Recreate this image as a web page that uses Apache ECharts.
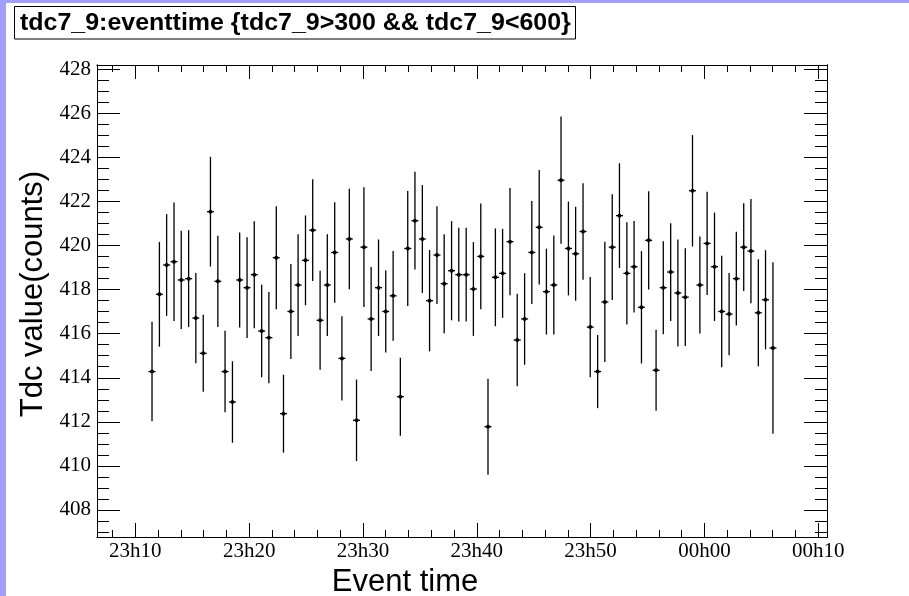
<!DOCTYPE html>
<html>
<head>
<meta charset="utf-8">
<script src="https://cdn.jsdelivr.net/npm/echarts@6/dist/echarts.min.js"></script>
<style>html,body{margin:0;padding:0;background:#fff;}#c{width:909px;height:596px;}</style>
</head>
<body>
<div id="c"></div>
<script>
// Bin centres: seconds after 23:00:00
var binTimes = [688,727,765,804,842,881,919,958,996,1035,1073,1112,1150,1189,1227,1266,1304,1343,1381,1420,
1458,1497,1535,1574,1612,1651,1689,1728,1766,1805,1843,1882,1920,1959,1997,2036,2074,2113,2151,2190,
2228,2267,2305,2344,2382,2421,2459,2498,2536,2575,2613,2652,2690,2729,2767,2806,2844,2883,2921,2960,
2998,3037,3075,3114,3152,3191,3229,3268,3306,3345,3383,3422,3460,3499,3537,3576,3614,3653,3691,3730,
3768,3807,3845,3884,3922,3961];
var tdcMean = [414.28,417.79,419.12,419.27,418.44,418.50,416.71,415.11,421.54,418.38,
414.28,412.90,418.44,418.09,418.68,416.12,415.82,419.45,412.37,417.01,
418.21,419.33,420.70,416.61,418.21,419.69,414.88,420.30,412.07,419.93,
416.67,418.09,417.01,417.72,413.14,419.87,421.13,420.30,417.50,419.57,
418.27,418.86,418.68,418.68,418.03,419.51,411.78,418.56,418.74,420.18,
415.71,416.67,419.69,420.83,417.91,418.21,422.97,419.87,419.63,420.64,
416.30,414.28,417.44,419.93,421.36,418.74,419.04,417.20,420.24,414.34,
418.09,418.80,417.85,417.66,422.49,418.21,420.10,419.04,417.01,416.89,
418.50,419.93,419.75,416.95,417.54,415.35];
var tdcErr = [2.26,2.38,2.31,2.69,2.23,2.20,2.05,1.75,2.49,2.07,
1.85,1.85,2.16,2.29,2.43,2.10,2.07,2.34,1.77,2.16,
2.31,2.04,2.31,2.25,2.31,2.28,1.91,2.28,1.85,2.72,
2.36,2.19,1.86,2.04,1.77,2.61,2.22,2.45,2.30,2.22,
2.25,2.25,2.13,2.13,2.13,2.40,2.18,2.22,2.02,2.43,
2.10,2.08,2.34,2.60,1.95,2.25,2.89,2.13,2.13,2.19,
2.28,1.66,2.73,2.40,2.38,2.32,2.08,2.55,2.23,1.84,
2.11,2.22,2.43,2.22,2.53,2.20,2.34,2.46,2.53,1.87,
2.13,1.99,2.37,2.43,2.25,3.89];
var xMajorTicks = [600,1200,1800,2400,3000,3600,4200];
var xMinorTicks = [480,720,840,960,1080,1320,1440,1560,1680,1920,2040,2160,2280,2520,2640,2760,2880,3120,3240,3360,3480,3720,3840,3960,4080];
var yMajorTicks = [408,410,412,414,416,418,420,422,424,426,428];
var yMinorTicks = [407,407.5,408.5,409,409.5,410.5,411,411.5,412.5,413,413.5,414.5,415,415.5,416.5,417,417.5,418.5,419,419.5,420.5,421,421.5,422.5,423,423.5,424.5,425,425.5,426.5,427,427.5];
var titleText = 'tdc7_9:eventtime {tdc7_9>300 && tdc7_9<600}';
var xTitle = 'Event time';
var yTitle = 'Tdc value(counts)';

var X_MIN = 398, X_MAX = 4246, Y_MIN = 406.77, Y_MAX = 428.2;
function fmtTime(v){
  var tot = 23*60 + Math.round(v/60);
  var h = Math.floor(tot/60)%24, m = tot%60;
  return (h<10?'0':'')+h+'h'+(m<10?'0':'')+m;
}
var data = binTimes.map(function(t,i){return [t, tdcMean[i], tdcErr[i]];});
var lineC = '#000';
function xAx(pos, ticks, len, showLabel){
  return {type:'value', position:pos, min:X_MIN, max:X_MAX, gridIndex:0,
    axisLine:{show:true, onZero:false, lineStyle:{color:lineC, width:1}},
    axisTick:{show:true, inside:true, length:len, customValues:ticks, lineStyle:{color:lineC, width:1}},
    axisLabel:{show:showLabel, customValues:ticks, formatter:fmtTime, margin:4,
      fontFamily:'Liberation Serif', fontSize:21, color:'#000'},
    splitLine:{show:false}};
}
function yAx(pos, ticks, len, showLabel){
  return {type:'value', position:pos, min:Y_MIN, max:Y_MAX, gridIndex:0,
    axisLine:{show:true, onZero:false, lineStyle:{color:lineC, width:1}},
    axisTick:{show:true, inside:true, length:len, customValues:ticks, lineStyle:{color:lineC, width:1}},
    axisLabel:{show:showLabel, customValues:ticks, margin:6,
      fontFamily:'Liberation Serif', fontSize:21, color:'#000'},
    splitLine:{show:false}};
}
var chart = echarts.init(document.getElementById('c'), null, {renderer:'canvas'});
chart.setOption({
  animation:false,
  backgroundColor:'#fff',
  grid:{left:97, right:82, top:65, bottom:59, containLabel:false},
  xAxis:[xAx('bottom', xMajorTicks, 14, true), xAx('bottom', xMinorTicks, 7, false),
         xAx('top', xMajorTicks, 14, false), xAx('top', xMinorTicks, 7, false)],
  yAxis:[yAx('left', yMajorTicks, 23, true), yAx('left', yMinorTicks, 12, false),
         yAx('right', yMajorTicks, 23, false), yAx('right', yMinorTicks, 12, false)],
  graphic:[
    {type:'rect', shape:{x:0,y:0,width:6,height:596}, style:{fill:'#a0a0fc'}, silent:true},
    {type:'rect', shape:{x:0,y:0,width:909,height:3}, style:{fill:'#a0a0fc'}, silent:true},
    {type:'rect', shape:{x:14.5,y:6.5,width:561,height:32.5}, style:{fill:'#fff', stroke:'#000', lineWidth:1}},
    {type:'text', x:20, y:23, scaleX:1.04, style:{text:titleText, fontFamily:'Liberation Sans', fontWeight:'bold', fontSize:24, fill:'#000', textVerticalAlign:'middle'}},
    {type:'text', x:405, y:582, style:{text:xTitle, fontFamily:'Liberation Sans', fontSize:31, fill:'#000', textAlign:'center', textVerticalAlign:'middle'}},
    {type:'text', x:33, y:294, rotation:Math.PI/2, style:{text:yTitle, fontFamily:'Liberation Sans', fontSize:31, fill:'#000', textAlign:'center', textVerticalAlign:'middle'}}
  ],
  series:[{
    type:'custom', xAxisIndex:0, yAxisIndex:0, data:data, clip:true,
    renderItem:function(params, api){
      var x = api.value(0), y = api.value(1), e = api.value(2);
      var c = api.coord([x,y]), lo = api.coord([x,y-e]), hi = api.coord([x,y+e]);
      var st = {stroke:'#000', lineWidth:1.3};
      return {type:'group', children:[
        {type:'line', shape:{x1:c[0], y1:hi[1], x2:c[0], y2:lo[1]}, style:st},
        {type:'line', shape:{x1:c[0]-3.5, y1:c[1], x2:c[0]+3.5, y2:c[1]}, style:st},
        {type:'circle', shape:{cx:c[0], cy:c[1], r:2}, style:{fill:'#000'}}
      ]};
    }
  }]
});
</script>
</body>
</html>
